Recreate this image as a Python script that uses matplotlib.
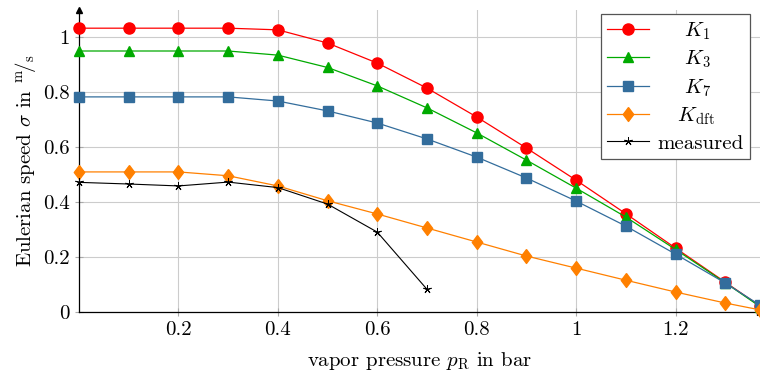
import matplotlib
matplotlib.use("Agg")
import matplotlib.pyplot as plt
import matplotlib.ticker as pltticker

plt.rcParams["font.family"] = "cmr10"
plt.rcParams["mathtext.fontset"] = "cm"
plt.rcParams["axes.formatter.use_mathtext"] = True
plt.rcParams["font.size"] = 15

pressure = [0.0, 0.1, 0.2, 0.3, 0.4, 0.5, 0.6, 0.7, 0.8, 0.9, 1.0, 1.1, 1.2, 1.3, 1.37]
k1 = [1.033, 1.033, 1.033, 1.033, 1.027, 0.979, 0.906, 0.815, 0.710, 0.597, 0.480, 0.358, 0.233, 0.109, 0.022]
k3 = [0.950, 0.950, 0.950, 0.950, 0.935, 0.890, 0.823, 0.743, 0.652, 0.553, 0.451, 0.346, 0.228, 0.107, 0.020]
k7 = [0.783, 0.783, 0.783, 0.783, 0.768, 0.732, 0.688, 0.630, 0.564, 0.488, 0.404, 0.313, 0.211, 0.106, 0.025]
kdft = [0.510, 0.510, 0.510, 0.496, 0.459, 0.405, 0.357, 0.306, 0.255, 0.204, 0.160, 0.116, 0.073, 0.033, 0.008]
meas_p = [0.0, 0.1, 0.2, 0.3, 0.4, 0.5, 0.6, 0.7]
measured = [0.472, 0.466, 0.459, 0.473, 0.453, 0.393, 0.291, 0.083]

fig = plt.figure(figsize=(7.6, 3.76), dpi=100)
ax = fig.add_axes([0.104, 0.170, 0.896, 0.804])

diamond = [(0, 1), (0.75, 0), (0, -1), (-0.75, 0), (0, 1)]

lw = 0.9
ax.plot(pressure, k1, color="#ff0000", marker="o", markersize=8, lw=lw, label="    $K_1$", clip_on=False, zorder=5)
ax.plot(pressure, k3, color="#00aa00", marker="^", markersize=7.5, lw=lw, label="    $K_3$", clip_on=False, zorder=5)
ax.plot(pressure, k7, color="#336d9c", marker="s", markersize=7, lw=lw, label="    $K_7$", clip_on=False, zorder=5)
ax.plot(pressure, kdft, color="#ff8000", marker=diamond, markersize=10, lw=lw, label="   $K_\\mathrm{dft}$", clip_on=False, zorder=5)
ax.plot(meas_p, measured, color="black", marker=(5, 2, 0), markersize=6, markeredgewidth=0.7,
        lw=0.8, label="measured", clip_on=False, zorder=6)

ax.set_xlim(0, 1.37)
ax.set_ylim(0, 1.1)
ax.set_xticks([0.2, 0.4, 0.6, 0.8, 1.0, 1.2])
ax.set_yticks([0, 0.2, 0.4, 0.6, 0.8, 1.0])
fmt = pltticker.FuncFormatter(lambda v, p: ("%g" % v))
ax.xaxis.set_major_formatter(fmt)
ax.yaxis.set_major_formatter(fmt)

ax.grid(True, color="#cccccc", lw=0.8)
ax.set_axisbelow(True)
ax.tick_params(direction="inout", length=6, color="#aaaaaa", width=0.8, labelsize=15)
for side in ["top", "right"]:
    ax.spines[side].set_visible(False)
for side in ["left", "bottom"]:
    ax.spines[side].set_linewidth(0.9)

# axis arrows
ax.plot(0, 1, marker="^", color="black", markersize=4, transform=ax.transAxes, clip_on=False)
ax.plot(1, 0, marker=">", color="black", markersize=4, transform=ax.transAxes, clip_on=False)

ax.set_xlabel("vapor pressure $p_\\mathrm{R}$ in bar", fontsize=15, labelpad=8)
ax.set_ylabel("Eulerian speed $\\sigma$ in $^{\\mathrm{m}}\\!/_{\\mathrm{s}}$", fontsize=15, labelpad=4)

leg = ax.legend(loc="upper right", bbox_to_anchor=(0.985, 0.986), fancybox=False, edgecolor="#555555",
                framealpha=1, fontsize=15, labelspacing=0.33, handlelength=2.0, borderpad=0.3,
                handletextpad=0.4, borderaxespad=0)
leg.get_frame().set_linewidth(0.9)

fig.savefig("out.png", dpi=100)
